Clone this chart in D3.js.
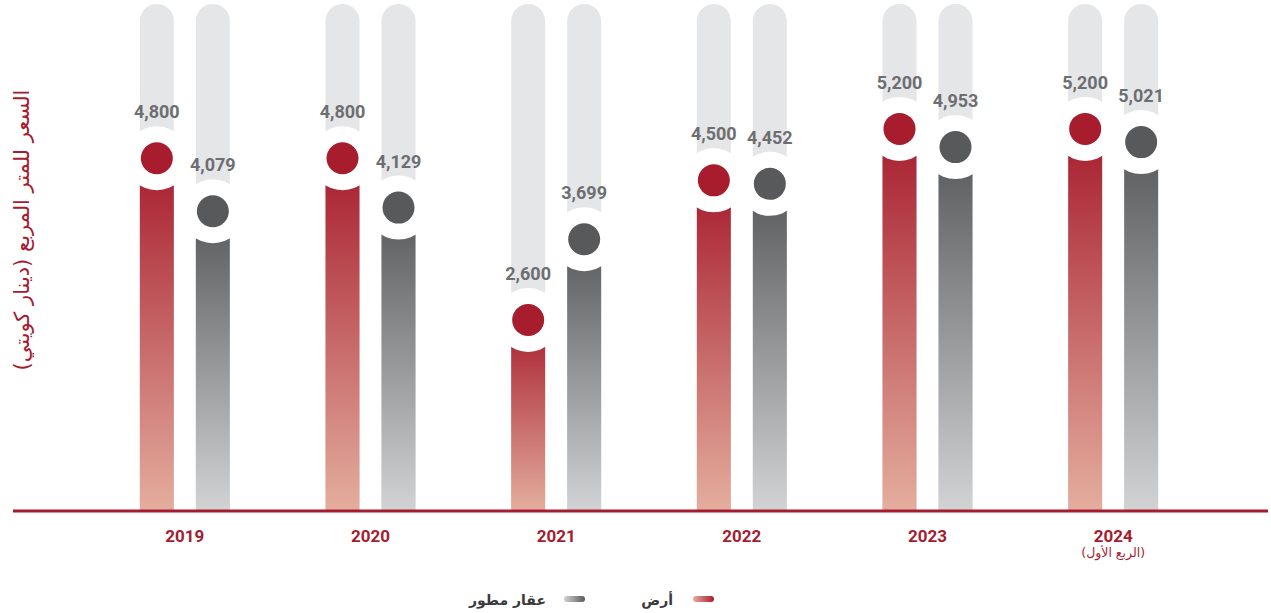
<!DOCTYPE html>
<html lang="ar">
<head>
<meta charset="utf-8">
<script src="https://cdn.jsdelivr.net/npm/d3@7/dist/d3.min.js"></script>
<style>
  html, body { margin: 0; padding: 0; background: #ffffff; }
  svg { display: block; font-family: "Roboto", "DejaVu Sans", sans-serif; }
</style>
</head>
<body>
<svg id="chart" width="1271" height="613"></svg>
<script>
// Price per square metre (KWD) by year
const years = ["2019", "2020", "2021", "2022", "2023", "2024"];
const yearNotes = ["", "", "", "", "", "(الربع الأول)"];
const landValues = [4800, 4800, 2600, 4500, 5200, 5200];
const builtValues = [4079, 4129, 3699, 4452, 4953, 5021];
const seriesKeys = ["land", "built"];
const seriesNames = ["أرض", "عقار مطور"];
const yAxisTitle = "السعر للمتر المربع (دينار كويتي)";
const yMax = 6900;

const W = 1271, H = 613;
const baseY = 511;
const svg = d3.select("#chart");

const colors = {
  land:  { dot: "#a71d2e", top: "#a71d2e", bottom: "#e4ae9e" },
  built: { dot: "#58595b", top: "#58595b", bottom: "#d2d3d5" }
};
const track = "#e5e6e8";
const red = "#a51c30";

// gradients
const defs = svg.append("defs");
seriesKeys.forEach(k => {
  const g = defs.append("linearGradient").attr("id", "grad-" + k)
    .attr("x1", 0).attr("y1", 0).attr("x2", 0).attr("y2", 1);
  g.append("stop").attr("offset", "0%").attr("stop-color", colors[k].top);
  g.append("stop").attr("offset", "100%").attr("stop-color", colors[k].bottom);
  const h = defs.append("linearGradient").attr("id", "legend-" + k)
    .attr("x1", 0).attr("y1", 0).attr("x2", 1).attr("y2", 0);
  h.append("stop").attr("offset", "0%").attr("stop-color", colors[k].bottom);
  h.append("stop").attr("offset", "100%").attr("stop-color", colors[k].top);
});

// scales
const x = d3.scaleBand().domain(years).range([92, 1206]).padding(0);
const xInner = d3.scaleBand().domain(seriesKeys).range([-45, 45])
  .paddingInner(22 / 56).paddingOuter(0);
const y = d3.scaleLinear().domain([0, yMax]).range([baseY, 4]);
const bw = xInner.bandwidth();

const data = [];
years.forEach((yr, i) => {
  data.push({ year: yr, key: "land", value: landValues[i] });
  data.push({ year: yr, key: "built", value: builtValues[i] });
});
const cx = d => x(d.year) + x.bandwidth() / 2 + xInner(d.key) + bw / 2;

// background tracks with rounded tops
const r = bw / 2;
svg.append("g").selectAll("path").data(data).join("path")
  .attr("fill", track)
  .attr("d", d => {
    const x0 = cx(d) - r, top = y(yMax);
    return `M${x0},${baseY} L${x0},${top + r} A${r},${r} 0 0 1 ${x0 + bw},${top + r} L${x0 + bw},${baseY} Z`;
  });

// value bars
svg.append("g").selectAll("rect").data(data).join("rect")
  .attr("x", d => cx(d) - r)
  .attr("y", d => y(d.value))
  .attr("width", bw)
  .attr("height", d => baseY - y(d.value))
  .attr("fill", d => `url(#grad-${d.key})`);

// markers: white ring and dot
const marks = svg.append("g").selectAll("g").data(data).join("g")
  .attr("transform", d => `translate(${cx(d)},${y(d.value)})`);
marks.append("circle").attr("r", 32).attr("fill", "#ffffff");
marks.append("circle").attr("r", 16).attr("fill", d => colors[d.key].dot);

// value labels
svg.append("g").selectAll("text").data(data).join("text")
  .attr("x", d => cx(d))
  .attr("y", d => y(d.value) - 40)
  .attr("text-anchor", "middle")
  .attr("font-size", 18)
  .attr("font-weight", 700)
  .attr("fill", "#6d6e71")
  .text(d => d3.format(",")(d.value));

// baseline
svg.append("line")
  .attr("x1", 13).attr("x2", 1268)
  .attr("y1", baseY).attr("y2", baseY)
  .attr("stroke", red).attr("stroke-width", 3);

// x axis labels
const xAxis = svg.append("g").attr("transform", `translate(0,${baseY})`)
  .call(d3.axisBottom(x).tickSize(0).tickPadding(0));
xAxis.select(".domain").remove();
xAxis.selectAll(".tick text")
  .attr("y", 31)
  .attr("dy", 0)
  .attr("font-family", "Roboto, sans-serif")
  .attr("font-size", 17)
  .attr("font-weight", 700)
  .attr("fill", red);
xAxis.selectAll(".tick").each(function(d, i) {
  if (yearNotes[i]) {
    d3.select(this).append("text")
      .attr("y", 46)
      .attr("text-anchor", "middle")
      .attr("direction", "rtl")
      .attr("font-family", "DejaVu Sans, sans-serif")
      .attr("font-size", 12.5)
      .attr("fill", red)
      .text(yearNotes[i]);
  }
});

// y axis title
svg.append("text")
  .attr("transform", "translate(29,230) rotate(-90)")
  .attr("text-anchor", "middle")
  .attr("direction", "rtl")
  .attr("font-family", "DejaVu Sans, sans-serif")
  .attr("font-size", 21)
  .attr("fill", red)
  .text(yAxisTitle);

// legend
const legendItems = [
  { key: "land", name: seriesNames[0], pillX: 693, textX: 673 },
  { key: "built", name: seriesNames[1], pillX: 564, textX: 546 }
];
const lg = svg.append("g");
legendItems.forEach(it => {
  lg.append("rect")
    .attr("x", it.pillX).attr("y", 596)
    .attr("width", 21).attr("height", 6).attr("rx", 3)
    .attr("fill", `url(#legend-${it.key})`);
  lg.append("text")
    .attr("x", it.textX).attr("y", 605)
    .attr("text-anchor", "end")
    .attr("font-family", "DejaVu Sans, sans-serif")
    .attr("font-size", 14)
    .attr("font-weight", 700)
    .attr("fill", "#3a3a3c")
    .text(it.name);
});
</script>
</body>
</html>
